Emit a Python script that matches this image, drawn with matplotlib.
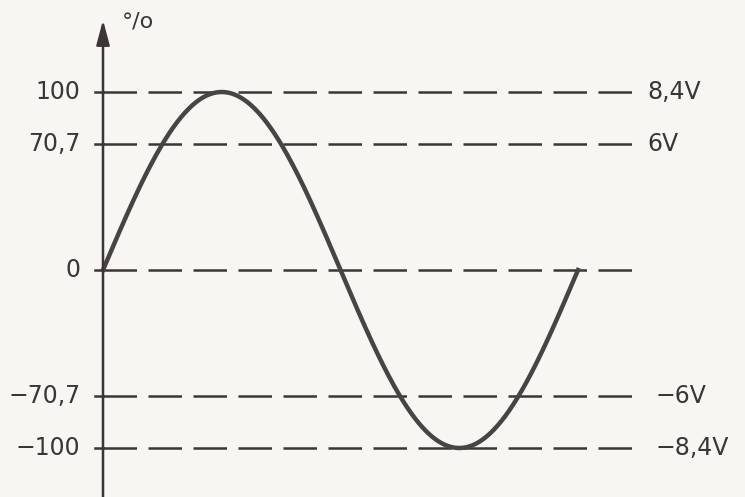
import numpy as np
import matplotlib.pyplot as plt

# уровни (проценты) и подписи
levels = [100, 70.7, 0, -70.7, -100]
level_labels = ['100', '70,7', '0', '\u221270,7', '\u2212100']
volt_levels = [100, 70.7, -70.7, -100]
volt_labels = ['8,4V', '6V', '\u22126V', '\u22128,4V']

# фаза синусоиды, градусы
phase_deg = np.linspace(0, 360, 361)
percent = 100 * np.sin(np.radians(phase_deg))

W, H = 745, 497
x0, period_px = 103, 475     # положение оси и длина периода в пикселях
y0, scale_px = 270, 1.78     # нулевой уровень и пикселей на процент

ink = '#3b3536'
paper = '#f7f6f3'

fig = plt.figure(figsize=(W / 100, H / 100), dpi=100, facecolor=paper)
ax = fig.add_axes([0, 0, 1, 1], facecolor=paper)
ax.set_xlim(-x0 * 360 / period_px, (W - x0) * 360 / period_px)
ax.set_ylim(-(H - y0) / scale_px, y0 / scale_px)
ax.axis('off')

# пунктирные уровни
x_end = (632 - x0) * 360 / period_px
for lv in levels:
    ax.plot([0, x_end], [lv, lv], color=ink, lw=1.8, ls=(0, (13.4, 4.6)),
            solid_capstyle='butt', zorder=2)
    ax.plot([-6, 0], [lv, lv], color=ink, lw=1.8, zorder=2)

# синусоида
ax.plot(phase_deg, percent, color='#4a4344', lw=3.2, zorder=3)

# вертикальная ось со стрелкой
y_bot = ax.get_ylim()[0]
y_tip = (y0 - 20) / scale_px
ax.annotate('', xy=(0, y_tip), xytext=(0, y_bot),
            arrowprops=dict(arrowstyle='-|>,head_length=1.5,head_width=0.4',
                            color=ink, lw=1.8, shrinkA=0, shrinkB=0), zorder=4)
ax.text(14, (y0 - 22) / scale_px, '\u00b0/o', fontsize=16, color=ink,
        ha='left', va='center')

# подписи слева
for lv, lab in zip(levels, level_labels):
    ax.text(-17, lv, lab, fontsize=17, color=ink, ha='right', va='center')

# подписи справа
for lv, lab in zip(volt_levels, volt_labels):
    xl = 647 if lv > 0 else 655
    ax.text((xl - x0) * 360 / period_px, lv, lab, fontsize=17, color=ink,
            ha='left', va='center')

fig.savefig('out.png', dpi=100, facecolor=paper)
